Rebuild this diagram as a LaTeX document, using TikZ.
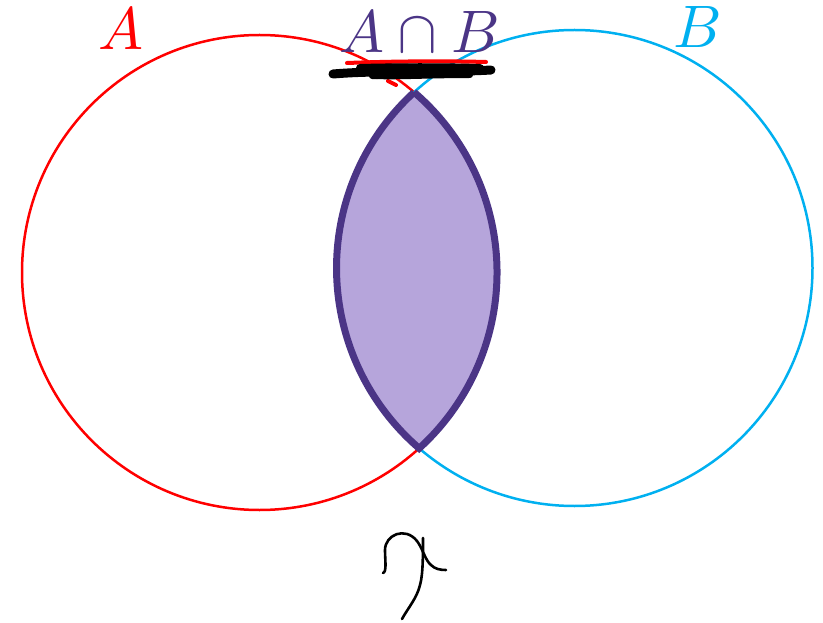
\documentclass[tikz,border=0pt]{standalone}
\usepackage{unicode-math}
\usepackage{tikz}
\definecolor{cred}{HTML}{FF0000}
\definecolor{cblue}{HTML}{00B0F0}
\definecolor{cpurp}{HTML}{4B3586}
\definecolor{cfill}{HTML}{B6A5DB}
\tikzset{
  setcircle/.style={line width=2.5pt},
  lens/.style={draw=cpurp, fill=cfill, line width=7pt, line join=miter},
  lbl/.style={anchor=base, inner sep=0pt, font=\fontsize{60}{62}\selectfont},
  scribble/.style={line cap=round, line join=round},
  pen/.style={black, line width=2.6pt, line cap=round, line join=round}
}
\begin{document}
\begin{tikzpicture}[x=1pt,y=1pt]
\useasboundingbox (0,0) rectangle (823,-623);
% circles
\coordinate (cA) at (259.5,-272.5);
\coordinate (cB) at (574.5,-268);
\draw[setcircle, cred] (cA) circle[radius=237.5pt];
\draw[setcircle, cblue] (cB) circle[radius=238pt];
% lens (intersection)
\coordinate (ptop) at (414.08,-92.2);
\filldraw[lens] (ptop) arc[start angle=49.4, end angle=-47.76, radius=237.5pt]
  arc[start angle=229.25, end angle=132.38, radius=238pt] -- cycle;
% labels
\node[lbl, text=cred] (labA) at (121,-50) {$A$};
\node[lbl, text=cblue] (labB) at (697,-48) {$B$};
\node[lbl, text=cpurp] (labAB) at (419,-53) {$A\cap B$};
% scribbles under A cap B
\draw[scribble, cred, line width=4pt] (347,-63) .. controls (400,-61) and (450,-61) .. (486,-62);
\draw[scribble, cred, line width=4pt] (388,-81) -- (396,-85);
\fill[cred] (377,-77) circle[radius=2.2pt];
\draw[scribble, black, line width=9pt] (333,-74) .. controls (380,-70) and (440,-73) .. (491,-70);
\draw[scribble, black, line width=8pt] (360,-68) .. controls (400,-67) and (440,-67) .. (480,-68);
\draw[scribble, black, line width=6pt] (372,-76) .. controls (400,-77) and (430,-75) .. (470,-75);
% handwritten mark at bottom
\draw[pen] (383,-573) .. controls (387,-572) and (385,-560) .. (385,-550)
  .. controls (385,-535) and (405,-526) .. (417,-541)
  .. controls (423,-549) and (425,-560) .. (431,-565)
  .. controls (435,-569) and (440,-570) .. (446,-570);
\draw[pen] (423,-538) .. controls (423,-555) and (423,-575) .. (420,-585)
  .. controls (417,-598) and (408,-608) .. (402,-619);
\end{tikzpicture}
\end{document}
